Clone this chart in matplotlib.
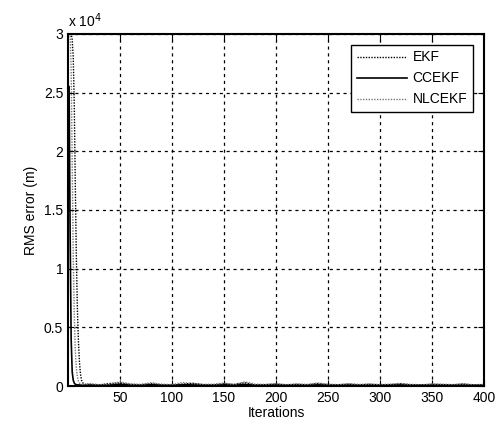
import matplotlib.pyplot as plt
import numpy as np

plt.rcParams['font.family'] = ['Liberation Sans', 'DejaVu Sans']

# first iterations (1..16), read from the spike
head_iter = list(range(1, 17))
ekf_head = [31000, 30500, 30000, 29500, 28000, 24000, 17000, 11000, 6500, 3800, 2000, 1000, 500, 300, 200, 150]
ccekf_head = [25500, 13000, 4000, 1200, 500, 250, 150, 120, 100, 90, 100, 80, 90, 70, 80, 70]
nlcekf_head = [31000, 30000, 27000, 19000, 11000, 6000, 3000, 1500, 800, 400, 250, 180, 150, 120, 110, 100]

# tail, every 10 iterations (20..400)
tail_iter = list(range(20, 401, 10))
ekf_tail = [150, 90, 220, 260, 140, 110, 200, 100, 80, 170, 240, 120, 100, 190, 140, 280, 100, 120, 170, 90,
            150, 100, 210, 120, 100, 170, 90, 150, 100, 120, 190, 100, 90, 150, 120, 100, 170, 90, 110]
ccekf_tail = [90, 70, 100, 150, 80, 70, 110, 80, 70, 100, 120, 80, 70, 100, 90, 140, 70, 80, 100, 70,
              90, 70, 100, 80, 70, 90, 70, 80, 70, 90, 100, 70, 80, 70, 90, 70, 80, 70, 80]
nlcekf_tail = [220, 120, 170, 350, 180, 140, 280, 160, 120, 300, 200, 140, 160, 260, 120, 360, 160, 140, 200, 120,
               180, 140, 260, 160, 120, 200, 140, 180, 120, 160, 220, 140, 110, 180, 160, 120, 200, 110, 140]

iters = head_iter + tail_iter
ekf = ekf_head + ekf_tail
ccekf = ccekf_head + ccekf_tail
nlcekf = nlcekf_head + nlcekf_tail

fig = plt.figure(figsize=(5.04, 4.28), dpi=100)
ax = fig.add_axes([0.135, 0.098, 0.825, 0.823])

ax.plot(iters, ekf, color='black', linestyle=(0, (1, 1)), linewidth=1.0, label='EKF')
ax.plot(iters, ccekf, color='black', linestyle='-', linewidth=1.2, label='CCEKF')
ax.plot(iters, nlcekf, color='#777777', linestyle=(0, (1, 1)), linewidth=1.0, label='NLCEKF')

ax.set_xlim(0, 400)
ax.set_ylim(0, 30000)
ax.set_xticks(range(50, 401, 50))
yt = [0, 5000, 10000, 15000, 20000, 25000, 30000]
ax.set_yticks(yt)
ax.set_yticklabels(['0', '0.5', '1', '1.5', '2', '2.5', '3'])
ax.tick_params(direction='in', top=True, right=True, labelsize=10, length=4)
ax.grid(True, color='black', linestyle=(0, (2.5, 3)), linewidth=0.9)
for s in ax.spines.values():
    s.set_linewidth(1.5)

ax.text(0.0, 1.01, 'x 10$^4$', transform=ax.transAxes, fontsize=10, ha='left', va='bottom')
ax.set_xlabel('Iterations', fontsize=10, labelpad=1)
ax.set_ylabel('RMS error (m)', fontsize=10)

leg = ax.legend(loc='upper right', handlelength=3.6, handletextpad=0.4, fontsize=10, fancybox=False,
                framealpha=1, edgecolor='black', borderaxespad=0.8)
leg.get_frame().set_linewidth(1.0)

fig.savefig('out.png', dpi=100)
